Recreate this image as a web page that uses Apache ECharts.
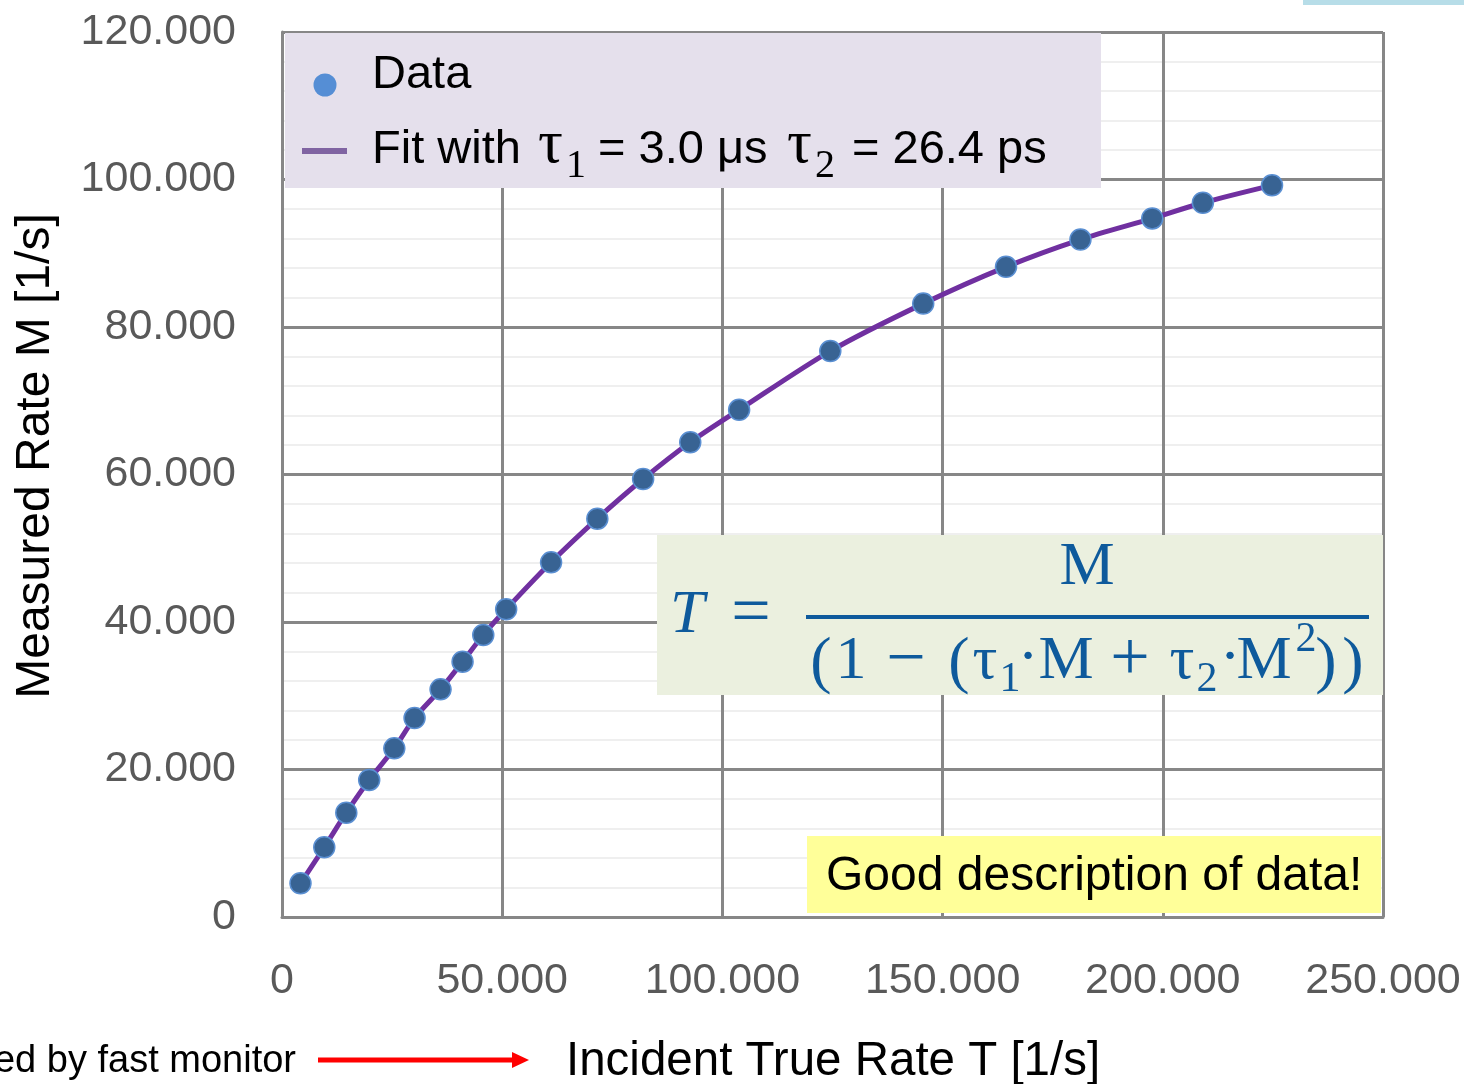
<!DOCTYPE html>
<html>
<head>
<meta charset="utf-8">
<script src="https://cdn.jsdelivr.net/npm/echarts@6/dist/echarts.min.js"></script>
<style>
html,body{margin:0;padding:0;background:#fff;}
#chart{width:1464px;height:1084px;}
</style>
</head>
<body>
<div id="chart"></div>
<script>
// ---- data ----
const trueRate = [4200, 9600, 14600, 19800, 25500, 30100, 36000, 41000, 45700, 50900, 61100, 71600, 82000, 92700, 103800, 124500, 145600, 164400, 181300, 197600, 209100, 224800];
const measuredRate = [4570, 9450, 14140, 18580, 22870, 26980, 30870, 34620, 38240, 41720, 48090, 54010, 59390, 64370, 68770, 76740, 83170, 88160, 91860, 94720, 96850, 99210];
// fit curve, points
const fitT = [4200, 9600, 14600, 19800, 25500, 30100, 36000, 41000, 45700, 50900, 61100, 71600, 82000, 92700, 103800, 124500, 145600, 164400, 181300, 197600, 209100, 224800];
const fitM = [4570, 9450, 14140, 18580, 22870, 26980, 30870, 34620, 38240, 41720, 48090, 54010, 59390, 64370, 68770, 76740, 83170, 88160, 91860, 94720, 96850, 99210];
const xTickLabels = ['0', '50.000', '100.000', '150.000', '200.000', '250.000'];
const yTickLabels = ['0', '20.000', '40.000', '60.000', '80.000', '100.000', '120.000'];

const chart = echarts.init(document.getElementById('chart'), null, {renderer: 'canvas'});
const SANS = '"Liberation Sans", Arial, sans-serif';
const SERIF = '"Liberation Serif", "DejaVu Serif", serif';
const FCOL = '#0E5A9C';

function txt(text, x, y, size, opts) {
  opts = opts || {};
  return {
    type: 'text', x: x, y: y, z: 20,
    rotation: opts.rotation || 0,
    style: {
      text: text,
      font: (opts.italic ? 'italic ' : '') + size + 'px ' + (opts.family || SANS),
      fill: opts.color || '#000',
      align: opts.align || 'left',
      verticalAlign: opts.va || 'middle'
    }
  };
}
function ftxt(text, x, y, size, italic) {
  return txt(text, x, y, size, {family: SERIF, color: FCOL, align: 'center', italic: italic});
}

const graphics = [
  // top-right cyan strip
  {type: 'rect', z: 20, shape: {x: 1303, y: 0, width: 161, height: 5}, style: {fill: '#B7DDE8'}},
  // legend box
  {type: 'rect', z: 15, shape: {x: 285, y: 33, width: 816, height: 155}, style: {fill: '#E5E0EC'}},
  {type: 'circle', z: 20, shape: {cx: 325, cy: 85, r: 11.5}, style: {fill: '#558ED5'}},
  txt('Data', 372, 75, 47),
  {type: 'line', z: 20, shape: {x1: 302, y1: 151, x2: 347, y2: 151}, style: {stroke: '#8064A2', lineWidth: 6}},
  txt('Fit with', 372, 150, 47),
  txt('τ', 538, 146, 62, {family: SERIF}),
  txt('1', 566, 166, 40, {family: SERIF}),
  txt('= 3.0 μs', 598, 150, 47),
  txt('τ', 787, 146, 62, {family: SERIF}),
  txt('2', 815, 166, 40, {family: SERIF}),
  txt('= 26.4 ps', 852, 150, 47),
  // formula box
  {type: 'rect', z: 15, shape: {x: 657, y: 535, width: 726, height: 160}, style: {fill: '#EBF0DF'}},
  txt('T', 670, 616, 62, {family: SERIF, italic: true, color: FCOL}),
  ftxt('=', 751, 616, 70),
  {type: 'rect', z: 20, shape: {x: 806, y: 615, width: 563, height: 4}, style: {fill: FCOL}},
  ftxt('M', 1087, 568, 62),
  ftxt('(', 821, 664, 64),
  ftxt('1', 851, 662, 62),
  ftxt('−', 906, 662, 70),
  ftxt('(', 959, 664, 64),
  ftxt('τ', 985, 662, 62),
  ftxt('1', 1010, 680, 42),
  ftxt('·', 1028, 660, 62),
  ftxt('M', 1066, 662, 62),
  ftxt('+', 1130, 662, 70),
  ftxt('τ', 1182, 662, 62),
  ftxt('2', 1207, 680, 42),
  ftxt('·', 1230, 660, 62),
  ftxt('M', 1264, 662, 62),
  ftxt('2', 1306, 640, 42),
  ftxt(')', 1326, 664, 64),
  ftxt(')', 1353, 664, 64),
  // yellow note
  {type: 'rect', z: 15, shape: {x: 807, y: 836, width: 574, height: 77}, style: {fill: '#FFFF99'}},
  txt('Good description of data!', 826, 877, 48),
  // axis titles
  txt('Measured Rate M [1/s]', 36, 456, 48, {align: 'center', rotation: Math.PI / 2}),
  txt('Incident True Rate T [1/s]', 566, 1062, 47.5),
  // bottom-left annotation and arrow
  txt('ed by fast monitor', 296, 1062, 38, {align: 'right'}),
  {type: 'line', z: 20, shape: {x1: 318, y1: 1060, x2: 516, y2: 1060}, style: {stroke: '#FF0000', lineWidth: 5}},
  {type: 'polygon', z: 20, shape: {points: [[512, 1052], [529, 1060], [512, 1068]]}, style: {fill: '#FF0000'}}
];

const option = {
  backgroundColor: '#fff',
  animation: false,
  grid: {left: 282, right: 81, top: 32, bottom: 167, containLabel: false},
  xAxis: {
    type: 'value', min: 0, max: 250000, interval: 50000,
    axisLine: {show: true, lineStyle: {color: '#878787', width: 3}},
    axisTick: {show: false},
    axisLabel: {
      margin: 43, color: '#595959', fontSize: 43, fontFamily: SANS,
      formatter: function (v) { return xTickLabels[Math.round(v / 50000)]; }
    },
    splitLine: {show: true, lineStyle: {color: '#878787', width: 3}}
  },
  yAxis: {
    type: 'value', min: 0, max: 120000, interval: 20000,
    axisLine: {show: true, lineStyle: {color: '#878787', width: 3}},
    axisTick: {show: false},
    minorTick: {show: false, splitNumber: 5},
    minorSplitLine: {show: true, lineStyle: {color: '#EFEFEF', width: 2}},
    axisLabel: {
      margin: 46, color: '#595959', fontSize: 43, fontFamily: SANS,
      formatter: function (v) { return yTickLabels[Math.round(v / 20000)]; }
    },
    splitLine: {show: true, lineStyle: {color: '#878787', width: 3}}
  },
  series: [
    {
      name: 'Fit', type: 'line', smooth: 0.3, showSymbol: false, z: 3,
      lineStyle: {color: '#7030A0', width: 5},
      data: fitT.map(function (t, i) { return [t, fitM[i]]; })
    },
    {
      name: 'Data', type: 'scatter', symbol: 'circle', symbolSize: 21, z: 4,
      itemStyle: {color: '#386393', borderColor: '#5A8FD2', borderWidth: 1.5, opacity: 1},
      data: trueRate.map(function (t, i) { return [t, measuredRate[i]]; })
    }
  ],
  graphic: {elements: graphics}
};
chart.setOption(option);
</script>
</body>
</html>
